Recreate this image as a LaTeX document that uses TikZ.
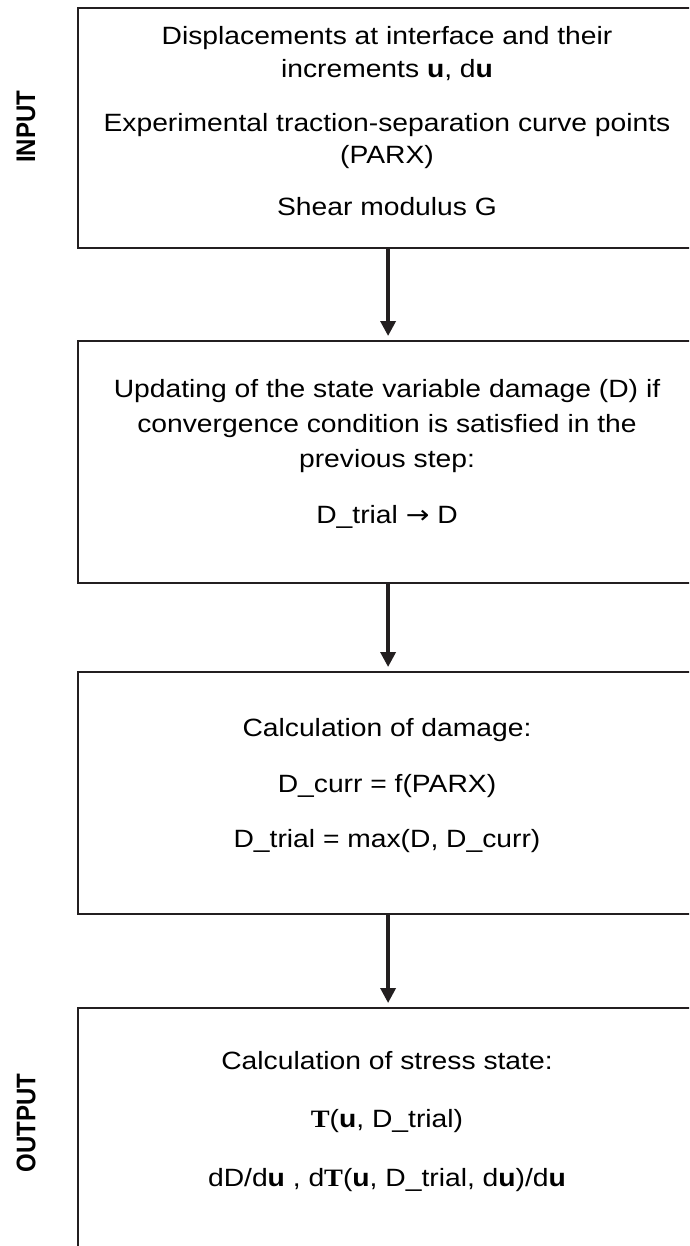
\documentclass[tikz,border=0pt]{standalone}
\usepackage{graphicx}
\usepackage{fontspec}
\setmainfont{Liberation Sans}
\newfontfamily\serifbold{Liberation Serif}
\newfontfamily\symfont{DejaVu Sans}
\usetikzlibrary{arrows.meta}
\definecolor{ink}{HTML}{231F20}
\newcommand{\bT}{{\serifbold\bfseries T}}
\newcommand{\hs}[1]{\scalebox{1.13}[1]{#1}}
\newcommand{\vs}[1]{\scalebox{1}[1.12]{#1}}
\begin{document}
\begin{tikzpicture}[x=1pt,y=1pt,
  box/.style={draw=ink, line width=2.2pt, minimum width=620pt, inner sep=0pt, anchor=north west},
  txt/.style={font=\fontsize{25}{30}\selectfont, text=black, anchor=base, inner sep=0pt},
  side/.style={font=\fontsize{24}{26}\selectfont\bfseries, rotate=90, text=black, inner sep=0pt},
  flow/.style={draw=ink, line width=3.5pt, -{Triangle[width=15pt,length=15pt]}, shorten >=4pt}]
\useasboundingbox (0,0) rectangle (689,-1246);
\clip (0,0) rectangle (689,-1246);
\node[box, minimum height=240pt] (b1) at (77,-7) {};
\node[box, minimum height=242pt] (b2) at (77,-340) {};
\node[box, minimum height=242pt] (b3) at (77,-671) {};
\node[box, minimum height=242pt] (b4) at (77,-1007) {};

\node[side] (lin) at (26,-127) {\vs{INPUT}};
\node[side] (lout) at (26,-1123) {\vs{OUTPUT}};

\node[txt] (t1a) at (387,-45) {\hs{Displacements at interface and their}};
\node[txt] (t1b) at (387,-78) {\hs{increments \textbf{u}, d\textbf{u}}};
\node[txt] (t1c) at (387,-132) {\hs{Experimental traction-separation curve points}};
\node[txt] (t1d) at (387,-164) {\hs{(PARX)}};
\node[txt] (t1e) at (387,-216) {\hs{Shear modulus G}};

\node[txt] (t2a) at (387,-397) {\hs{Updating of the state variable damage (D) if}};
\node[txt] (t2b) at (387,-432) {\hs{convergence condition is satisfied in the}};
\node[txt] (t2c) at (387,-467) {\hs{previous step:}};
\node[txt] (t2d) at (387,-523) {\hs{D\_trial {\symfont →} D}};

\node[txt] (t3a) at (387,-736) {\hs{Calculation of damage:}};
\node[txt] (t3b) at (387,-792) {\hs{D\_curr = f(PARX)}};
\node[txt] (t3c) at (387,-847) {\hs{D\_trial = max(D, D\_curr)}};

\node[txt] (t4a) at (387,-1069) {\hs{Calculation of stress state:}};
\node[txt] (t4b) at (387,-1127) {\hs{\bT(\textbf{u}, D\_trial)}};
\node[txt] (t4c) at (387,-1186) {\hs{dD/d\textbf{u} , d\bT(\textbf{u}, D\_trial, d\textbf{u})/d\textbf{u}}};

\draw[flow] (b1.south) -- (b2.north);
\draw[flow] (b2.south) -- (b3.north);
\draw[flow] (b3.south) -- (b4.north);
\end{tikzpicture}
\end{document}
